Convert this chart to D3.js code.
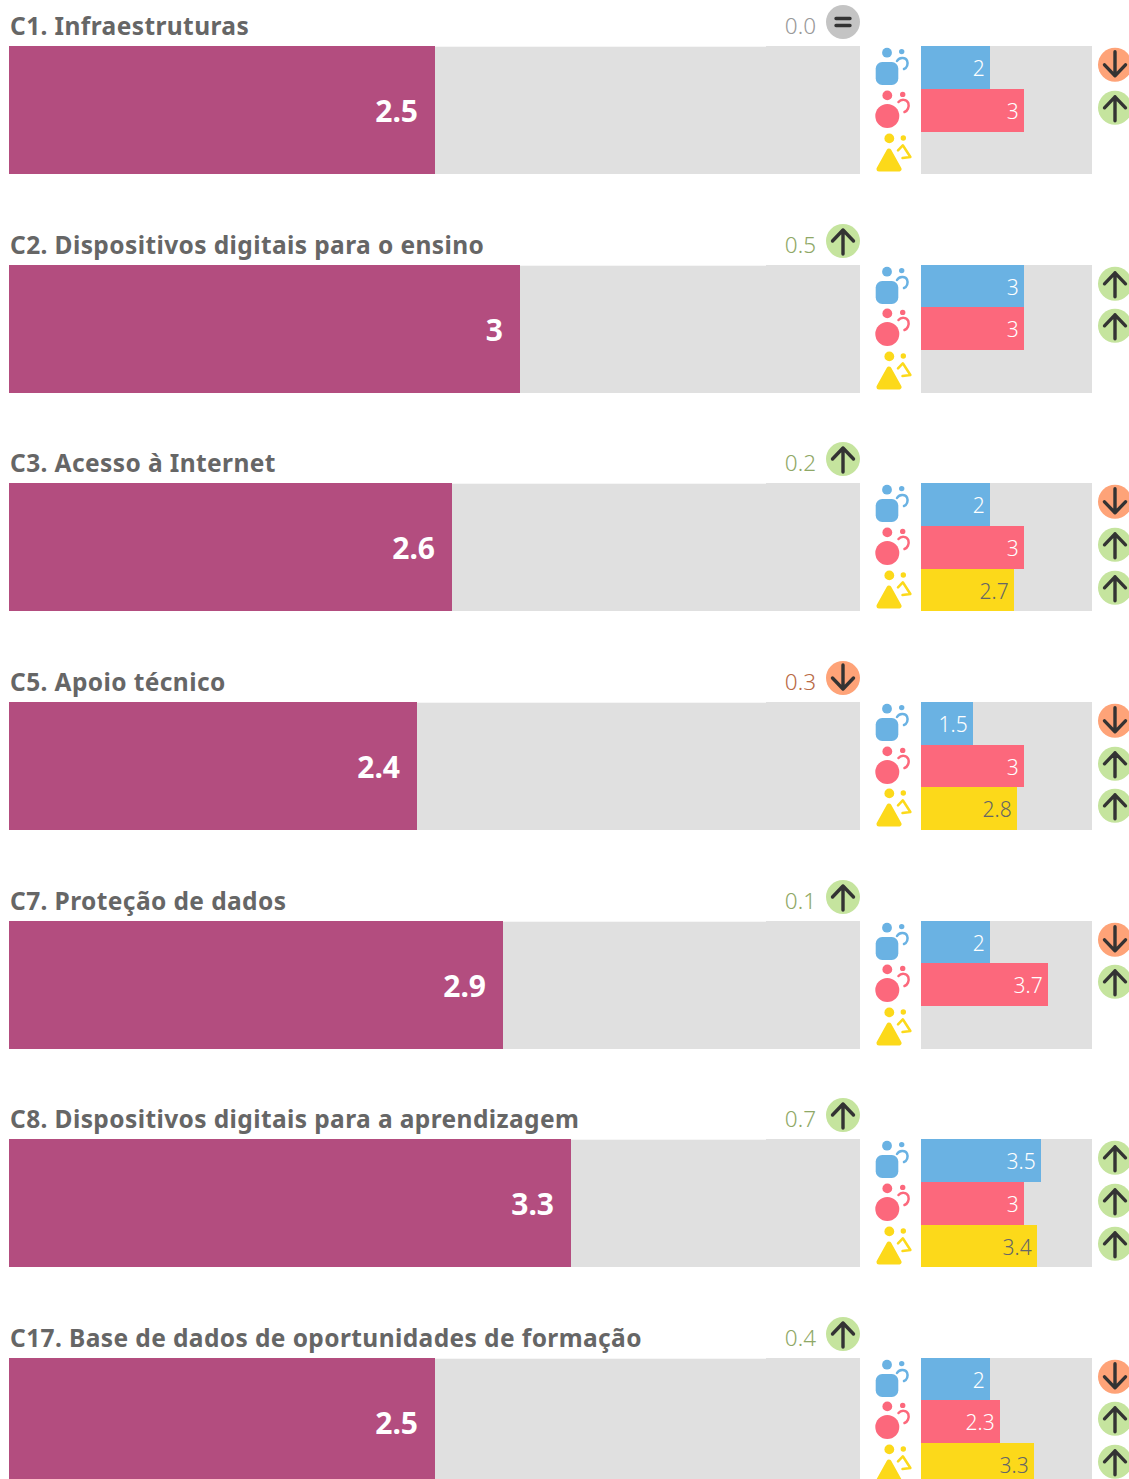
<!DOCTYPE html>
<html><head><meta charset="utf-8">
<script src="https://cdn.jsdelivr.net/npm/d3@7"></script>
<style>html,body{margin:0;padding:0;background:#fff;overflow:hidden}svg{display:block}text{font-family:"Noto Sans",sans-serif}</style>
</head><body><svg id="c" width="1129" height="1479"></svg>
<script>
const categories=["C1. Infraestruturas","C2. Dispositivos digitais para o ensino","C3. Acesso à Internet","C5. Apoio técnico","C7. Proteção de dados","C8. Dispositivos digitais para a aprendizagem","C17. Base de dados de oportunidades de formação"];
const overall=[2.5,3,2.6,2.4,2.9,3.3,2.5];
const overallLabels=["2.5","3","2.6","2.4","2.9","3.3","2.5"];
const deltas=["0.0","0.5","0.2","0.3","0.1","0.7","0.4"];
const deltaDir=["eq","up","up","down","up","up","up"];
const seriesNames=["blue","pink","yellow"];
const blue=[2,3,2,1.5,2,3.5,2];
const pink=[3,3,3,3,3.7,3,2.3];
const yellow=[null,null,2.7,2.8,null,3.4,3.3];
const blueDir=["down","up","down","down","down","up","down"];
const pinkDir=["up","up","up","up","up","up","up"];
const yellowDir=[null,null,"up","up",null,"up","up"];

const C={purple:"#b34d7f",track:"#e0e0e0",blue:"#6ab2e3",pink:"#fc687c",yellow:"#fcd91a",text:"#666666",dark:"#333333"};
const badge={up:"#c5e49e",down:"#fea378",eq:"#c4c4c4"};
const deltaColor={up:"#8fa866",down:"#b96a45",eq:"#999999"};
const svg=d3.select("#c");
const rowStep=218.6,rowH=128,firstTop=46.2;
const yRow=d3.scaleLinear().domain([0,1]).range([firstTop,firstTop+rowStep]);
const xMain=d3.scaleLinear().domain([0,5]).rangeRound([9,860]);
const xSmall=d3.scaleLinear().domain([0,5]).range([921.4,1092]).interpolate(d3.interpolateRound);
const ySub=d3.scaleBand().domain(seriesNames).range([0,rowH]);

function drawBadge(g,cx,cy,dir){
  const b=g.append("g").attr("transform",`translate(${cx},${cy})`);
  b.append("circle").attr("r",17).attr("fill",badge[dir]);
  const st=(s)=>s.attr("fill","none").attr("stroke",C.dark).attr("stroke-width",3.4).attr("stroke-linecap","round").attr("stroke-linejoin","round");
  if(dir==="eq"){
    st(b.append("path").attr("d","M-7,-3.5H7M-7,3.5H7"));
  }else if(dir==="up"){
    st(b.append("path").attr("d","M0,13V-11M-10.5,0L0,-11L10.5,0"));
  }else{
    st(b.append("path").attr("d","M0,-13V11M-10.5,0L0,11L10.5,0"));
  }
}
function drawIcon(g,kind,color){
  const i=g.append("g");
  const hook=(d)=>i.append("path").attr("d",d).attr("fill","none").attr("stroke",color).attr("stroke-width",2.5).attr("stroke-linecap","round").attr("stroke-linejoin","round");
  if(kind==="blue"){
    i.append("circle").attr("cx",887).attr("cy",6.7).attr("r",4.9).attr("fill",color);
    i.append("circle").attr("cx",901.7).attr("cy",5.6).attr("r",2.7).attr("fill",color);
    i.append("rect").attr("x",875.7).attr("y",16).attr("width",22.6).attr("height",23).attr("rx",6.5).attr("fill",color);
    hook("M897,15C899,11.5 905,10.5 907,14.5C908.5,18 907,22 904,23");
  }else if(kind==="pink"){
    i.append("circle").attr("cx",887.3).attr("cy",6.4).attr("r",4.9).attr("fill",color);
    i.append("circle").attr("cx",902.7).attr("cy",5.4).attr("r",2.7).attr("fill",color);
    i.append("circle").attr("cx",887.3).attr("cy",27).attr("r",12).attr("fill",color);
    hook("M898.5,13C901,10 906.5,10 908.3,14C909.5,18 907.5,22 904.5,23");
  }else{
    i.append("circle").attr("cx",889.3).attr("cy",6.4).attr("r",4.9).attr("fill",color);
    i.append("circle").attr("cx",903.3).attr("cy",6).attr("r",2.7).attr("fill",color);
    i.append("path").attr("d","M889,19L899,37H879Z").attr("fill",color).attr("stroke",color).attr("stroke-width",5).attr("stroke-linejoin","round");
    hook("M898,18.3L902.8,13.3L910.4,25L902.5,26");
  }
}
categories.forEach((name,i)=>{
  const rawTop=yRow(i), top=Math.round(rawTop);
  const g=svg.append("g").attr("class","row");
  g.append("rect").attr("x",xMain(0)).attr("y",top).attr("width",xMain(5)-xMain(0)).attr("height",rowH).attr("fill",C.track);
  g.append("rect").attr("x",xMain(0)).attr("y",top).attr("width",757).attr("height",1).attr("fill","#fff").attr("opacity",0.7);
  g.append("rect").attr("x",xMain(0)).attr("y",top).attr("width",xMain(overall[i])-xMain(0)).attr("height",rowH).attr("fill",C.purple);
  g.append("text").attr("x",10).attr("y",top-11.5).attr("fill",C.text).attr("font-size",24.5).attr("font-weight",700).attr("letter-spacing",0.4).text(name);
  g.append("text").attr("x",xMain(overall[i])-17).attr("y",top+75.5).attr("text-anchor","end").attr("fill","#fff").attr("font-size",30).attr("font-weight",700).text(overallLabels[i]);
  g.append("text").attr("x",816).attr("y",top-12).attr("text-anchor","end").attr("fill",deltaColor[deltaDir[i]]).attr("font-size",22.5).attr("font-weight",300).text(deltas[i]);
  drawBadge(g,843,top-24,deltaDir[i]);
  g.append("rect").attr("x",921).attr("y",top).attr("width",xSmall(5)-921).attr("height",rowH).attr("fill",C.track);
  [["blue",blue,blueDir],["pink",pink,pinkDir],["yellow",yellow,yellowDir]].forEach(([s,vals,dirs])=>{
    const sy=Math.round(rawTop+ySub(s));
    const syEnd=Math.round(rawTop+ySub(s)+ySub.bandwidth());
    drawIcon(g.append("g").attr("transform",`translate(0,${sy})`),s,C[s]);
    const v=vals[i];
    if(v==null)return;
    g.append("rect").attr("x",921).attr("y",sy).attr("width",xSmall(v)-921).attr("height",syEnd-sy).attr("fill",C[s]);
    g.append("text").attr("x",xSmall(v)-5.3).attr("y",sy+29.5).attr("text-anchor","end").attr("fill",s==="yellow"?C.text:"#fff").attr("font-size",21).attr("font-weight",300).text(String(v));
    drawBadge(g,1115,sy+18.8,dirs[i]);
  });
});
</script></body></html>
